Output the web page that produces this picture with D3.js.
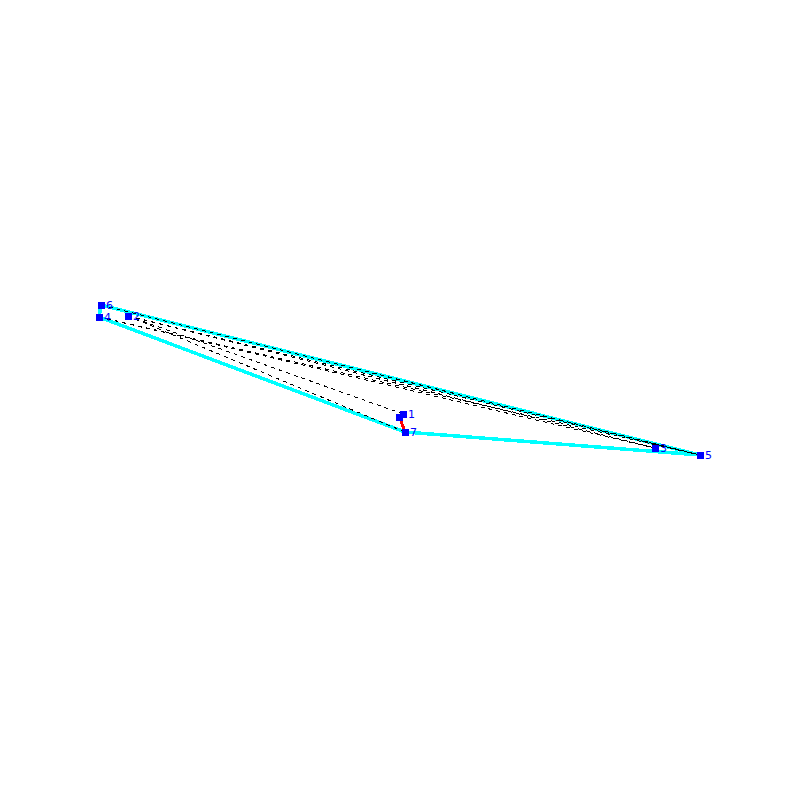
<!DOCTYPE html>
<html>
<head>
<meta charset="utf-8">
<script src="https://cdnjs.cloudflare.com/ajax/libs/d3/7.8.5/d3.min.js"></script>
<style>
  html, body { margin: 0; padding: 0; background: #fff; }
  svg { display: block; }
</style>
</head>
<body>
<div id="chart"></div>
<script>
// Node positions. The last node has no label.
const nodeLabels = ["1", "2", "3", "4", "5", "6", "7", ""];
const nodeX = [403, 128, 655, 99, 700, 101, 405, 399.5];
const nodeY = [414, 316, 448, 317, 455, 305, 432, 417];

// Edges as pairs of node indexes.
const dashedEdges = [[5,4],[1,4],[1,2],[3,4],[3,2],[1,0],[1,6]];
const hullEdges = [[5,4],[4,6],[6,3],[3,5]];
const redEdges = [[7,6]];

const width = 800, height = 800;

const x = d3.scaleLinear().domain([0, 800]).range([0, width]);
const y = d3.scaleLinear().domain([0, 800]).range([0, height]);

const svg = d3.select("#chart")
    .append("svg")
    .attr("width", width)
    .attr("height", height);

function drawEdges(edges, colour, lineWidth, dash) {
    svg.append("g")
        .selectAll("line")
        .data(edges)
        .enter()
        .append("line")
        .attr("x1", d => x(nodeX[d[0]]))
        .attr("y1", d => y(nodeY[d[0]]))
        .attr("x2", d => x(nodeX[d[1]]))
        .attr("y2", d => y(nodeY[d[1]]))
        .attr("stroke", colour)
        .attr("stroke-width", lineWidth)
        .attr("stroke-dasharray", dash)
        .attr("shape-rendering", "crispEdges");
}

drawEdges(hullEdges, "#00ffff", 3.5, null);
drawEdges(dashedEdges, "#000000", 1, "4,4");
drawEdges(redEdges, "#ff0000", 3, null);

// Square markers.
svg.append("g")
    .selectAll("rect")
    .data(nodeX)
    .enter()
    .append("rect")
    .attr("x", (d, i) => x(d) - 3.5)
    .attr("y", (d, i) => y(nodeY[i]) - 3.5)
    .attr("width", 7)
    .attr("height", 7)
    .attr("fill", "#0000ff")
    .attr("shape-rendering", "crispEdges");

// Node labels.
svg.append("g")
    .selectAll("text")
    .data(nodeLabels)
    .enter()
    .append("text")
    .attr("x", (d, i) => x(nodeX[i]) + 5)
    .attr("y", (d, i) => y(nodeY[i]) + 4)
    .attr("fill", "#0000ff")
    .attr("font-family", "DejaVu Sans, sans-serif")
    .attr("font-size", 11)
    .text(d => d);
</script>
</body>
</html>
